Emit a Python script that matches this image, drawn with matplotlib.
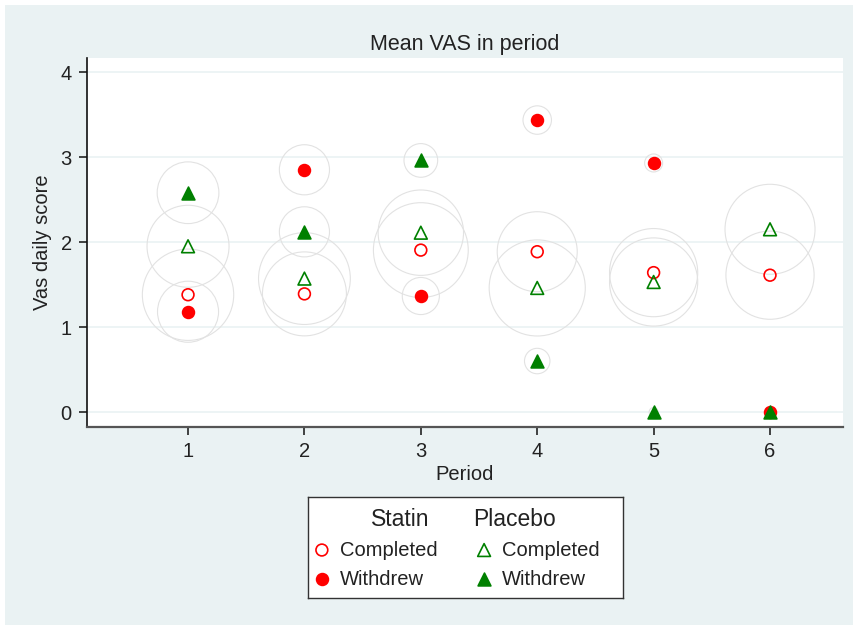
import matplotlib
matplotlib.use("Agg")
import matplotlib.pyplot as plt
from matplotlib.patches import Rectangle

plt.rcParams['font.family'] = ['Liberation Sans', 'DejaVu Sans']

# data
periods = [1, 2, 3, 4, 5, 6]

statin_completed = [1.38, 1.39, 1.905, 1.886, 1.64, 1.61]
statin_withdrew = [1.18, 2.85, 1.365, 3.435, 2.93, 0.0]
placebo_completed = [1.95, 1.57, 2.11, 1.46, 1.53, 2.15]
placebo_withdrew = [2.58, 2.12, 2.96, 0.60, 0.0, 0.0]

# bubble weights (number of patients)
statin_completed_n = [103, 87, 111, 79, 96, 96]
statin_withdrew_n = [46, 31, 17, 10, 4, 1]
placebo_completed_n = [83, 104, 90, 114, 96, 100]
placebo_withdrew_n = [47, 31, 14, 8, 1, 1]

y_ticks = [0, 1, 2, 3, 4]

RED = '#FF0000'
GREEN = '#008000'
BG = '#EAF2F3'
BUBBLE = '#E2E2E2'
BUBBLE_SCALE = 42

fig = plt.figure(figsize=(8.54, 6.25), dpi=100, facecolor='white')
# stata style graph region
fig.patches.append(Rectangle((5 / 854, 0), 1, 1 - 5 / 625, transform=fig.transFigure,
                             facecolor=BG, edgecolor='none', zorder=-10))

ax = fig.add_axes([87 / 854, 198 / 625, 756 / 854, 369 / 625])
ax.set_facecolor('white')

series = [
    (statin_completed, statin_completed_n, 'o', 'none', RED),
    (statin_withdrew, statin_withdrew_n, 'o', RED, RED),
    (placebo_completed, placebo_completed_n, '^', 'none', GREEN),
    (placebo_withdrew, placebo_withdrew_n, '^', GREEN, GREEN),
]

# bubbles first
for vals, n, m, fc, ec in series:
    ax.scatter(periods, vals, s=[BUBBLE_SCALE * w for w in n], facecolors='none',
               edgecolors=BUBBLE, linewidths=0.8, zorder=2)

for vals, n, m, fc, ec in series:
    size = 72 if m == 'o' else 85
    ax.scatter(periods, vals, s=size, marker=m, facecolors=fc, edgecolors=ec,
               linewidths=1.2, zorder=3)

ax.set_xlim(0.132, 6.627)
ax.set_ylim(-0.176, 4.165)
ax.set_xticks(periods)
ax.set_yticks(y_ticks)
ax.grid(axis='y', color=BG, linewidth=1.2, zorder=1)
ax.set_axisbelow(True)

for s in ['top', 'right']:
    ax.spines[s].set_visible(False)
ax.spines['left'].set_color('#111111')
ax.spines['bottom'].set_color('#555555')
ax.spines['left'].set_linewidth(1.2)
ax.spines['bottom'].set_linewidth(1.6)
ax.tick_params(axis='both', direction='out', length=6, width=1.1, pad=5,
               labelsize=14.5, colors='#111111', labelcolor='#222222')

ax.set_title('Mean VAS in period', fontsize=15.5, color='#222222', pad=6)
ax.set_xlabel('Period', fontsize=14.5, color='#222222', labelpad=3)
ax.set_ylabel('Vas daily score', fontsize=14.5, color='#222222', labelpad=6)

# legend box
lg = fig.add_axes([308 / 854, 27 / 625, 315 / 854, 101 / 625])
lg.set_xlim(0, 1)
lg.set_ylim(0, 1)
lg.set_xticks([])
lg.set_yticks([])
lg.set_facecolor('white')
for s in lg.spines.values():
    s.set_color('#333333')
    s.set_linewidth(1.0)

lg.text(0.292, 0.782, 'Statin', ha='center', va='center', fontsize=16.5, color='#222222')
lg.text(0.654, 0.782, 'Placebo', ha='center', va='center', fontsize=16.5, color='#222222')
rows = [0.475, 0.188]
labels = ['Completed', 'Withdrew']
for i, (vals, n, m, fc, ec) in enumerate(series):
    col = i // 2
    row = i % 2
    mx = 0.044 if col == 0 else 0.559
    tx = 0.102 if col == 0 else 0.616
    lg.scatter([mx], [rows[row]], s=72 if m == 'o' else 85, marker=m,
               facecolors=fc, edgecolors=ec, linewidths=1.2)
    lg.text(tx, rows[row], labels[row], ha='left', va='center', fontsize=14.5, color='#222222')

fig.savefig('out.png', dpi=100, facecolor=fig.get_facecolor())
